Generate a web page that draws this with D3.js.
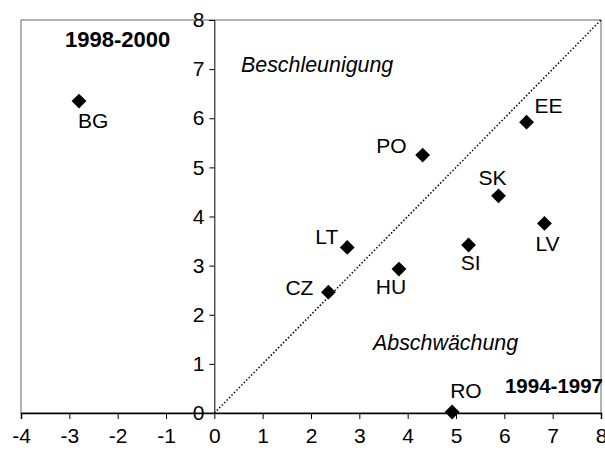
<!DOCTYPE html>
<html>
<head>
<meta charset="utf-8">
<script src="https://cdn.jsdelivr.net/npm/d3@7.9.0/dist/d3.min.js"></script>
<style>
  body { margin: 0; background: #fff; }
  svg { display: block; font-family: "Liberation Sans", Arial, sans-serif; }
</style>
</head>
<body>
<svg id="chart" width="605" height="453"></svg>
<script>
// data: growth 1994-1997 (x) vs 1998-2000 (y)
const countries = ['BG', 'PO', 'EE', 'SK', 'LV', 'SI', 'LT', 'HU', 'CZ', 'RO'];
const growth9497 = [-2.80, 4.31, 6.46, 5.88, 6.83, 5.26, 2.75, 3.82, 2.36, 4.92];
const growth9800 = [6.35, 5.25, 5.92, 4.42, 3.86, 3.42, 3.37, 2.93, 2.46, 0.02];
const xTicks = [-4, -3, -2, -1, 0, 1, 2, 3, 4, 5, 6, 7, 8];
const yTicks = [0, 1, 2, 3, 4, 5, 6, 7, 8];

// label placement (pixel offsets from the marker)
const labelPos = {
  BG: { dx: -1, dy: 27, anchor: 'start' },
  PO: { dx: -16, dy: -2, anchor: 'end' },
  EE: { dx: 8, dy: -9, anchor: 'start' },
  SK: { dx: -6, dy: -11, anchor: 'middle' },
  LV: { dx: 3, dy: 28, anchor: 'middle' },
  SI: { dx: 2, dy: 25, anchor: 'middle' },
  LT: { dx: -9, dy: -3, anchor: 'end' },
  HU: { dx: -8, dy: 25, anchor: 'middle' },
  CZ: { dx: -15, dy: 3, anchor: 'end' },
  RO: { dx: -2, dy: -14, anchor: 'start' }
};

const svg = d3.select('#chart');
const plotLeft = 21, plotRight = 601, plotTop = 20, plotBottom = 413;
const fontSize = 21;

const x = d3.scaleLinear().domain([-4, 8]).range([plotLeft, plotRight]);
const y = d3.scaleLinear().domain([0, 8]).range([plotBottom, plotTop]);

// frame
svg.append('rect')
  .attr('x', plotLeft).attr('y', plotTop)
  .attr('width', plotRight - plotLeft).attr('height', plotBottom - plotTop)
  .attr('fill', 'none').attr('stroke', '#666').attr('stroke-width', 1);

// diagonal
svg.append('line')
  .attr('x1', x(0)).attr('y1', y(0))
  .attr('x2', x(8)).attr('y2', y(8))
  .attr('stroke', '#000').attr('stroke-width', 1.5)
  .attr('stroke-dasharray', '1.5,2');

// x axis along y = 0
const xAxis = svg.append('g')
  .attr('transform', `translate(0,${y(0)})`)
  .call(d3.axisBottom(x).tickValues(xTicks).tickSize(6).tickPadding(9).tickFormat(d => String(d)));
xAxis.select('.domain').attr('stroke', '#000').attr('stroke-width', 1.5);
xAxis.selectAll('.tick line').attr('stroke', '#000');
xAxis.selectAll('text').attr('font-size', fontSize).attr('fill', '#000')
  .attr('font-family', '"Liberation Sans", Arial, sans-serif');

// y axis along x = 0
const yAxis = svg.append('g')
  .attr('transform', `translate(${x(0)},0)`)
  .call(d3.axisLeft(y).tickValues(yTicks).tickSize(5).tickPadding(5).tickFormat(d => String(d)));
yAxis.select('.domain').attr('stroke', '#000').attr('stroke-width', 1);
yAxis.selectAll('.tick line').attr('stroke', '#000');
yAxis.selectAll('text').attr('font-size', fontSize).attr('fill', '#000')
  .attr('font-family', '"Liberation Sans", Arial, sans-serif');

// markers
const points = countries.map((c, i) => ({ name: c, x: growth9497[i], y: growth9800[i] }));
const diamond = d3.symbol().type(d3.symbolSquare).size(110);

svg.append('g').selectAll('path')
  .data(points)
  .join('path')
  .attr('d', diamond)
  .attr('transform', d => `translate(${x(d.x)},${y(d.y)}) rotate(45)`)
  .attr('fill', '#000');

svg.append('g').selectAll('text')
  .data(points)
  .join('text')
  .attr('x', d => x(d.x) + labelPos[d.name].dx)
  .attr('y', d => y(d.y) + labelPos[d.name].dy)
  .attr('text-anchor', d => labelPos[d.name].anchor)
  .attr('font-size', fontSize)
  .text(d => d.name);

// annotations
svg.append('text').attr('x', 65).attr('y', 47)
  .attr('font-size', 22).attr('font-weight', 'bold').text('1998-2000');
svg.append('text').attr('x', 603).attr('y', 393)
  .attr('text-anchor', 'end')
  .attr('font-size', 20.5).attr('font-weight', 'bold').text('1994-1997');
svg.append('text').attr('x', 241).attr('y', 72)
  .attr('font-size', 21.4).attr('font-style', 'italic').text('Beschleunigung');
svg.append('text').attr('x', 373).attr('y', 350)
  .attr('font-size', 21.4).attr('font-style', 'italic').text('Abschwächung');
</script>
</body>
</html>
